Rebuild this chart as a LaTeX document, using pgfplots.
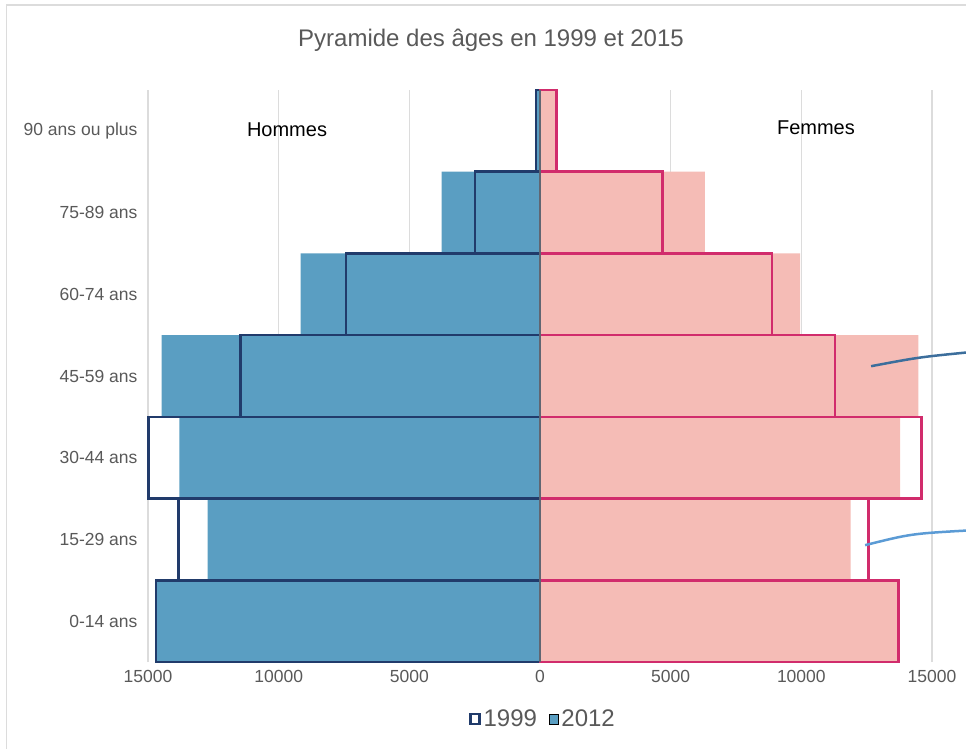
\documentclass[border=0pt]{standalone}
\usepackage{pgfplots}
\pgfplotsset{compat=1.18}
\usepackage{fontspec}
\setmainfont{Liberation Sans}
\definecolor{bluefill}{RGB}{90,158,194}
\definecolor{navy}{RGB}{33,59,107}
\definecolor{pinkfill}{RGB}{245,188,182}
\definecolor{magentaline}{RGB}{209,44,108}
\definecolor{txtgray}{RGB}{89,89,89}
\definecolor{gridgray}{RGB}{220,220,220}
\definecolor{centerline}{RGB}{96,102,114}
\definecolor{annodark}{RGB}{60,110,156}
\definecolor{annolight}{RGB}{91,155,213}
\begin{document}
\begin{tikzpicture}
\path[use as bounding box] (-148bp,-87bp) rectangle (818bp,662bp);
\draw[gridgray, line width=1.2bp] (-141.5bp,-100bp) -- (-141.5bp,657bp) -- (900bp,657bp);
\node[text=txtgray, font=\fontsize{24bp}{28bp}\selectfont] at (343bp,622bp) {Pyramide des âges en 1999 et 2015};
\begin{axis}[
  scale only axis, width=784bp, height=572bp,
  xmin=-15000, xmax=15000, ymin=-0.5, ymax=6.5,
  clip=false,
  axis line style={draw=none},
  major tick length=0pt,
  scaled x ticks=false,
  xtick={-15000,-10000,-5000,0,5000,10000,15000},
  xticklabels={15000,10000,5000,0,5000,10000,15000},
  xmajorgrids, grid style={gridgray, line width=1.2bp},
  ytick={0,1,2,3,4,5,6},
  yticklabels={0-14 ans,15-29 ans,30-44 ans,45-59 ans,60-74 ans,75-89 ans,90 ans ou plus},
  tick label style={text=txtgray, font=\fontsize{17.5bp}{20bp}\selectfont},
  yticklabel style={xshift=-7bp},
  xticklabel style={yshift=-5bp},
  legend style={at={(0.504,0)}, anchor=center, yshift=-57bp, draw=none, fill=none,
    legend columns=2, font=\fontsize{24bp}{28bp}\selectfont, text=txtgray,
    /tikz/every even column/.append style={column sep=10bp},
    /tikz/every odd column/.append style={column sep=1bp}},
  legend image code/.code={\draw[#1] (0bp,-5bp) rectangle (9bp,5bp);},
]
\addlegendimage{draw=navy, fill=white, line width=2.2bp}
\addlegendentry{1999}
\addlegendimage{draw=none, fill=bluefill}
\addlegendentry{2012}
% 2012 (filled)
\addplot[xbar, bar width=1, bar shift=0, fill=bluefill, draw=none, forget plot]
  coordinates {(-14700,0) (-12720,1) (-13800,2) (-14480,3) (-9160,4) (-3760,5) (-170,6)};
\addplot[xbar, bar width=1, bar shift=0, fill=pinkfill, draw=none, forget plot]
  coordinates {(13710,0) (11890,1) (13780,2) (14480,3) (9950,4) (6310,5) (620,6)};
% 1999 (outline)
\addplot[xbar, bar width=1, bar shift=0, fill=none, draw=navy, line width=2.6bp, forget plot]
  coordinates {(-14690,0) (-13830,1) (-14990,2) (-11450,3) (-7420,4) (-2490,5) (-150,6)};
\addplot[xbar, bar width=1, bar shift=0, fill=none, draw=magentaline, line width=2.6bp, forget plot]
  coordinates {(13710,0) (12560,1) (14600,2) (11290,3) (8870,4) (4680,5) (620,6)};
\draw[centerline, line width=2bp] (axis cs:0,-0.5) -- (axis cs:0,6.5);
\node[font=\fontsize{20bp}{24bp}\selectfont] at (axis cs:-9680,6.02) {Hommes};
\node[font=\fontsize{20bp}{24bp}\selectfont] at (axis cs:10560,6.04) {Femmes};
\draw[annodark, line width=2.5bp] (axis cs:12670,3.12) .. controls (axis cs:14500,3.23) .. (axis cs:16400,3.29);
\draw[annolight, line width=2.5bp] (axis cs:12440,0.93) .. controls (axis cs:14200,1.07) .. (axis cs:16400,1.11);
\end{axis}
\end{tikzpicture}
\end{document}
